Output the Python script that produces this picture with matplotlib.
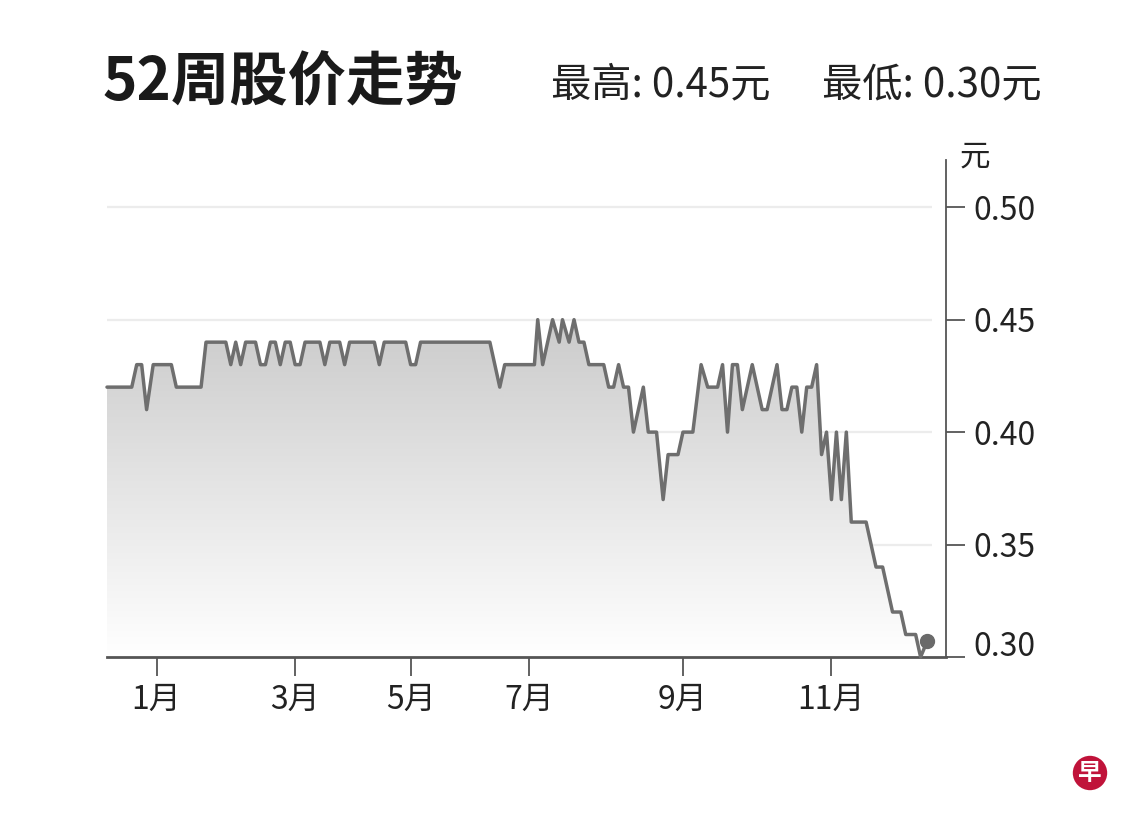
import numpy as np
import matplotlib
matplotlib.use("Agg")
import matplotlib.pyplot as plt
from matplotlib.colors import LinearSegmentedColormap

plt.rcParams['font.family'] = ['Noto Sans CJK SC', 'DejaVu Sans']

# 交易日序号 / 收盘价 (元), 拐点
days = [0, 7.5, 9, 10.5, 12, 14, 19.5, 21, 28.5, 30, 36, 37.5, 39, 40.5, 42, 45,
        46.5, 48, 49.5, 51, 52.5, 54, 55.5, 57, 58.5, 60, 64.5, 66, 67.5, 70.5,
        72, 73.5, 81, 82.5, 84, 90.5, 92, 93.5, 95, 116, 119, 120.5, 129.5,
        130.5, 132, 135, 137, 138, 140, 141.5, 143, 144.5, 146, 150.5, 152,
        153.5, 155, 156.5, 158, 159.5, 162.5, 164, 166.5, 168.5, 170, 173,
        174.5, 177.5, 180, 182, 185, 186.5, 188, 189.5, 191, 192.5, 195.5,
        198.5, 200, 203, 204.5, 206, 207.5, 209, 210.5, 212, 213.5, 215, 216.5,
        218, 219.5, 221, 222.5, 224, 225.5, 230, 233, 235, 238, 240.5, 242,
        245, 246.5, 248.5]
prices = [0.42, 0.42, 0.43, 0.43, 0.41, 0.43, 0.43, 0.42, 0.42, 0.44, 0.44,
          0.43, 0.44, 0.43, 0.44, 0.44, 0.43, 0.43, 0.44, 0.44, 0.43, 0.44,
          0.44, 0.43, 0.43, 0.44, 0.44, 0.43, 0.44, 0.44, 0.43, 0.44, 0.44,
          0.43, 0.44, 0.44, 0.43, 0.43, 0.44, 0.44, 0.42, 0.43, 0.43, 0.45,
          0.43, 0.45, 0.44, 0.45, 0.44, 0.45, 0.44, 0.44, 0.43, 0.43, 0.42,
          0.42, 0.43, 0.42, 0.42, 0.40, 0.42, 0.40, 0.40, 0.37, 0.39, 0.39,
          0.40, 0.40, 0.43, 0.42, 0.42, 0.43, 0.40, 0.43, 0.43, 0.41, 0.43,
          0.41, 0.41, 0.43, 0.41, 0.41, 0.42, 0.42, 0.40, 0.42, 0.42, 0.43,
          0.39, 0.40, 0.37, 0.40, 0.37, 0.40, 0.36, 0.36, 0.34, 0.34, 0.32,
          0.32, 0.31, 0.31, 0.30, 0.307]

month_pos = [15, 57, 92, 128, 174.5, 219.5]
month_labels = ['1月', '3月', '5月', '7月', '9月', '11月']
y_ticks = [0.30, 0.35, 0.40, 0.45, 0.50]

fig = plt.figure(figsize=(11.4, 8.23), dpi=100)
ax = fig.add_axes([107/1140, 1-657/823, (946-107)/1140, (657-160)/823])
ax.set_xlim(0, 254.2)
ax.set_ylim(0.30, 0.521)

# 网格线
ax.hlines(y_ticks[1:], 0, 250, color='#ececec', lw=1.6, zorder=0)

# 渐变填充
grad = np.linspace(0, 1, 256).reshape(-1, 1)
cmap = LinearSegmentedColormap.from_list('g', ['#ffffff', '#cbcbcb'])
im = ax.imshow(grad, extent=[0, 254.2, 0.30, 0.45], origin='lower',
               aspect='auto', cmap=cmap, zorder=1)
poly = ax.fill_between(days, prices, 0.30, facecolor='none', edgecolor='none')
im.set_clip_path(poly.get_paths()[0], transform=ax.transData)

ax.plot(days, prices, color='#6e6e6e', lw=2.5, solid_joinstyle='round',
        solid_capstyle='round', zorder=3, clip_on=False)
ax.plot(days[-1], prices[-1], 'o', ms=10, color='#6a6a6a', zorder=4,
        clip_on=False)

for s in ['top', 'left']:
    ax.spines[s].set_visible(False)
ax.spines['right'].set_color('#555555')
ax.spines['right'].set_linewidth(1.3)
ax.spines['bottom'].set_color('#555555')
ax.spines['bottom'].set_linewidth(2)

ax.yaxis.tick_right()
ax.set_yticks(y_ticks)
ax.set_yticklabels([''] + ['%.2f' % v for v in y_ticks[1:]])
ax.tick_params(axis='y', direction='out', length=14, width=1.3,
               color='#555555', pad=6, labelsize=23, labelcolor='#222222')
# 0.30 标签略高于刻度
ax.annotate('%.2f' % y_ticks[0], xy=(1, y_ticks[0]),
            xycoords=('axes fraction', 'data'), xytext=(19.5, 7),
            textcoords='offset points', fontsize=23, color='#222222',
            ha='left', va='center', annotation_clip=False)

ax.set_xticks(month_pos)
ax.set_xticklabels(month_labels)
ax.tick_params(axis='x', direction='out', length=14, width=1.3,
               color='#555555', pad=5, labelsize=23, labelcolor='#222222')

fig.text(975/1140, 1-157/823, '元', fontsize=22, color='#222222',
         ha='center', va='center')

fig.text(103/1140, 1-83/823, '52周股价走势', fontsize=42, fontweight='bold',
         color='#1a1a1a', ha='left', va='center')
fig.text(551/1140, 1-85/823, '最高: 0.45元', fontsize=29, color='#222222',
         ha='left', va='center')
fig.text(1042/1140, 1-85/823, '最低: 0.30元', fontsize=29, color='#222222',
         ha='right', va='center')

fig.text(1090/1140, 1-773/823, '早', fontsize=17, fontweight='bold',
         color='white', ha='center', va='center',
         bbox=dict(boxstyle='circle,pad=0.22', fc='#c0133a', ec='none'))

fig.savefig('out.png', dpi=100)
